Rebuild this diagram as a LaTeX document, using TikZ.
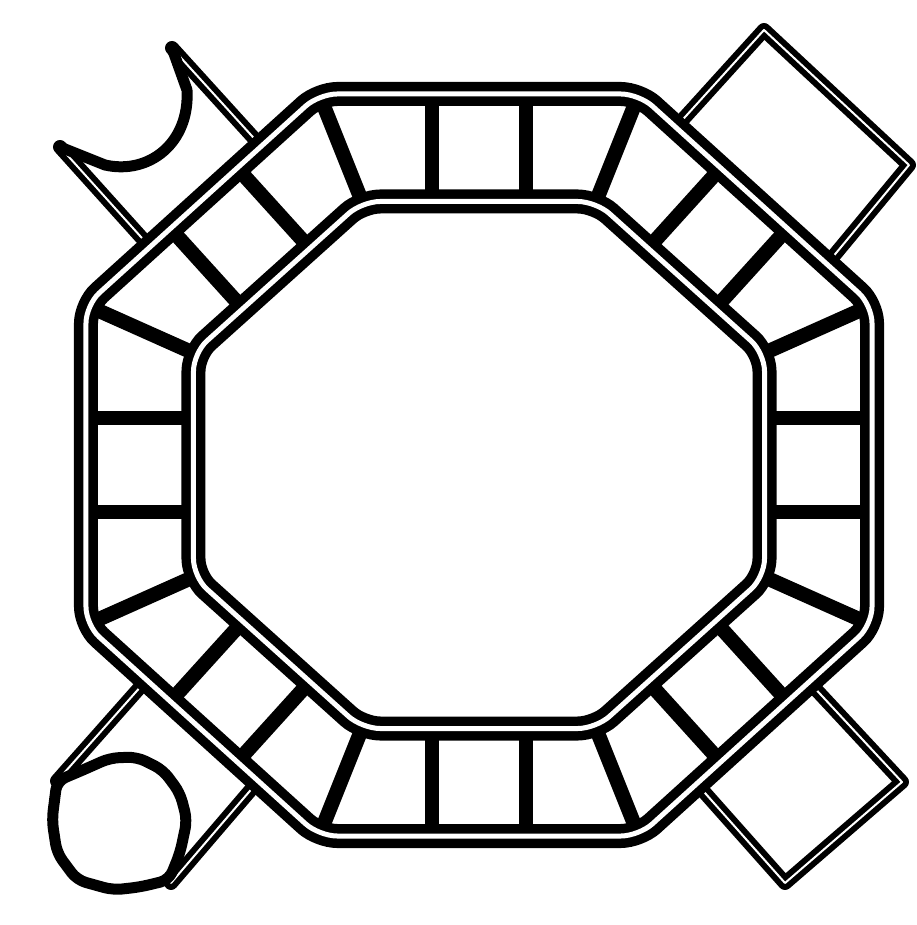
\documentclass[tikz,border=0pt]{standalone}
\usepackage{tikz}
\usetikzlibrary{calc}
\definecolor{inkblack}{RGB}{0, 0, 0}

\begin{document}
\begin{tikzpicture}[
  x=1pt, y=-1pt,
  track/.style={draw=inkblack, line width=9.5pt, double=white, double distance=5pt, rounded corners=18pt},
  rung/.style={draw=inkblack, line width=14.5pt},
  rail/.style={draw=inkblack, line width=6pt, double=white, double distance=2pt, line cap=round, line join=round},
  outline/.style={draw=inkblack, line width=11pt, line cap=round, line join=round}
]

% Canvas
\path[fill=white] (-479, -465) rectangle (432, 460);

% Octagon corners
\coordinate (o1) at (-160, -371);
\coordinate (o2) at (160, -371);
\coordinate (o3) at (393, -160);
\coordinate (o4) at (393, 160);
\coordinate (o5) at (160, 371);
\coordinate (o6) at (-160, 371);
\coordinate (o7) at (-393, 160);
\coordinate (o8) at (-393, -160);
\coordinate (i1) at (-117, -263.5);
\coordinate (i2) at (117, -263.5);
\coordinate (i3) at (285.5, -112);
\coordinate (i4) at (285.5, 112);
\coordinate (i5) at (117, 263.5);
\coordinate (i6) at (-117, 263.5);
\coordinate (i7) at (-285.5, 112);
\coordinate (i8) at (-285.5, -112);

% Corner rungs
\draw[rung] (o1) -- (i1) (o2) -- (i2) (o3) -- (i3) (o4) -- (i4);
\draw[rung] (o5) -- (i5) (o6) -- (i6) (o7) -- (i7) (o8) -- (i8);

% Straight sides
\draw[rung] (-47, -371) -- (-47, -263.5) (47, -371) -- (47, -263.5);
\draw[rung] (-47, 371) -- (-47, 263.5) (47, 371) -- (47, 263.5);
\draw[rung] (-393, -47) -- (-285.5, -47) (-393, 47) -- (-285.5, 47);
\draw[rung] (393, -47) -- (285.5, -47) (393, 47) -- (285.5, 47);

% Diagonal sides
\draw[rung] (-308.6, -236.5) -- (-236.2, -156.6) (-241.8, -297) -- (-169.4, -217);
\draw[rung] (308.6, -236.5) -- (236.2, -156.6) (241.8, -297) -- (169.4, -217);
\draw[rung] (-308.6, 236.5) -- (-236.2, 156.6) (-241.8, 297) -- (-169.4, 217);
\draw[rung] (308.6, 236.5) -- (236.2, 156.6) (241.8, 297) -- (169.4, 217);

% Cup (top left)
\draw[rail] (-329, -218) -- (-419, -318);
\draw[rail] (-218, -319) -- (-307, -417);
\draw[outline] (-307, -417) -- (-292, -375) .. controls (-289, -322) and (-330, -290) .. (-374, -300) -- (-419, -318);

% Frame (top right)
\draw[rail] (197, -338) -- (285, -435) -- (430, -300) -- (348, -201);

% Frame (bottom right)
\draw[rail] (218, 319) -- (306, 418) -- (423, 317) -- (330, 217);

% Blob (bottom left)
\draw[rail] (-332.5, 215) -- (-422, 316);
\draw[rail] (-220.6, 316) -- (-308, 418);
\draw[outline, rounded corners=9pt] (-422, 316) -- (-427, 355) -- (-422, 388) -- (-402, 415) -- (-366, 425) -- (-339, 422) -- (-310, 415) -- (-299, 388) -- (-292, 355) -- (-299, 328) -- (-316, 305) -- (-342, 292) -- (-369, 293) -- (-396, 305) -- cycle;

% Outer and inner track
\draw[track] ($(o7)!0.5!(o8)$) -- (o8) -- (o1) -- (o2) -- (o3) -- (o4) -- (o5) -- (o6) -- (o7) -- cycle;
\draw[track] ($(i7)!0.5!(i8)$) -- (i8) -- (i1) -- (i2) -- (i3) -- (i4) -- (i5) -- (i6) -- (i7) -- cycle;

\end{tikzpicture}
\end{document}
